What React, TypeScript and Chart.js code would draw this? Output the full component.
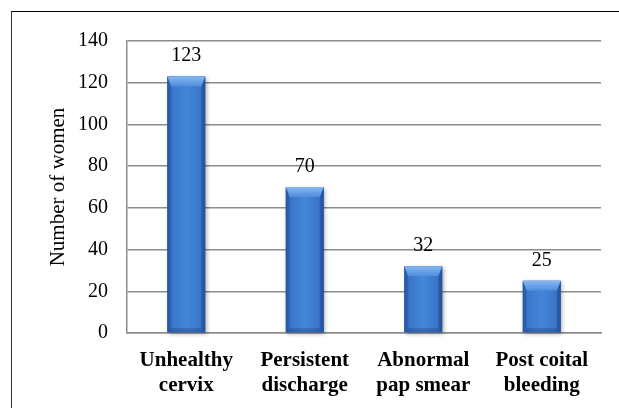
import React, { useEffect, useRef } from "react";
import { Chart, registerables } from "chart.js";

Chart.register(...registerables);

const categories: string[][] = [
  ["Unhealthy", "cervix"],
  ["Persistent", "discharge"],
  ["Abnormal", "pap smear"],
  ["Post coital", "bleeding"],
];
const womenCounts: number[] = [123, 70, 32, 25];
const yAxisTitle = "Number of women";
const yMin = 0;
const yMax = 140;
const yStep = 20;

const FONT = "'Liberation Serif', 'Times New Roman', serif";

const barStylePlugin = {
  id: "barStyle",
  afterDatasetsDraw(chart: any) {
    const ctx: CanvasRenderingContext2D = chart.ctx;
    const meta = chart.getDatasetMeta(0);
    meta.data.forEach((el: any) => {
      const { x, y, base, width } = el.getProps(["x", "y", "base", "width"], true);
      const left = x - width / 2;
      const right = x + width / 2;
      const top = Math.min(y, base);
      const bottom = Math.max(y, base);
      const h = bottom - top;
      const b = Math.min(10, h / 2);
      ctx.save();
      ctx.shadowColor = "rgba(0,0,0,0.3)";
      ctx.shadowBlur = 4;
      ctx.shadowOffsetX = 1.5;
      ctx.shadowOffsetY = 1.5;
      const g = ctx.createLinearGradient(left, 0, right, 0);
      g.addColorStop(0, "#2c62b2");
      g.addColorStop(0.12, "#3a76ca");
      g.addColorStop(0.5, "#4386d9");
      g.addColorStop(0.88, "#3a76ca");
      g.addColorStop(1, "#2c60ae");
      ctx.fillStyle = g;
      ctx.fillRect(left, top, width, h);
      ctx.shadowColor = "transparent";
      const s = 4;
      ctx.fillStyle = "rgba(20,50,110,0.22)";
      ctx.beginPath();
      ctx.moveTo(left, top);
      ctx.lineTo(left + s, top + b);
      ctx.lineTo(left + s, bottom - s);
      ctx.lineTo(left, bottom);
      ctx.closePath();
      ctx.fill();
      ctx.fillStyle = "rgba(20,50,110,0.3)";
      ctx.beginPath();
      ctx.moveTo(right, top);
      ctx.lineTo(right - s, top + b);
      ctx.lineTo(right - s, bottom - s);
      ctx.lineTo(right, bottom);
      ctx.closePath();
      ctx.fill();
      ctx.fillStyle = "rgba(20,50,110,0.3)";
      ctx.beginPath();
      ctx.moveTo(left, bottom);
      ctx.lineTo(left + s, bottom - s);
      ctx.lineTo(right - s, bottom - s);
      ctx.lineTo(right, bottom);
      ctx.closePath();
      ctx.fill();
      const tg = ctx.createLinearGradient(0, top, 0, top + b);
      tg.addColorStop(0, "#86b8f0");
      tg.addColorStop(1, "#4f8cdc");
      ctx.fillStyle = tg;
      ctx.beginPath();
      ctx.moveTo(left, top);
      ctx.lineTo(right, top);
      ctx.lineTo(right - s, top + b);
      ctx.lineTo(left + s, top + b);
      ctx.closePath();
      ctx.fill();
      ctx.restore();
    });
  },
};

const valueLabelPlugin = {
  id: "valueLabels",
  afterDatasetsDraw(chart: any) {
    const ctx: CanvasRenderingContext2D = chart.ctx;
    const meta = chart.getDatasetMeta(0);
    const data = chart.data.datasets[0].data as number[];
    ctx.save();
    ctx.font = `20px ${FONT}`;
    ctx.fillStyle = "#000";
    ctx.textAlign = "center";
    ctx.textBaseline = "alphabetic";
    meta.data.forEach((el: any, i: number) => {
      const { x, y } = el.getProps(["x", "y"], true);
      ctx.fillText(String(data[i]), x, y - 15);
    });
    ctx.restore();
  },
};

export default function App() {
  const canvasRef = useRef<HTMLCanvasElement | null>(null);

  useEffect(() => {
    if (!canvasRef.current) return;
    const chart = new Chart(canvasRef.current, {
      type: "bar",
      data: {
        labels: categories,
        datasets: [
          {
            data: womenCounts,
            backgroundColor: "#3b78cc",
            borderWidth: 0,
            barPercentage: 0.32,
            categoryPercentage: 1,
          },
        ],
      },
      options: {
        animation: false,
        responsive: false,
        devicePixelRatio: window.devicePixelRatio || 1,
        layout: { padding: { top: 41, right: 18, left: 0, bottom: 0 } },
        plugins: {
          legend: { display: false },
          tooltip: { enabled: false },
        },
        scales: {
          x: {
            grid: { display: false, drawTicks: false },
            border: { display: true, color: "#8c8c8c", width: 1.5 },
            ticks: {
              color: "#000",
              padding: 15,
              maxRotation: 0,
              autoSkip: false,
              font: { family: FONT, size: 21, weight: "bold", lineHeight: 1.2 },
            },
            afterFit(scale: any) {
              scale.height = 75;
            },
          },
          y: {
            min: yMin,
            max: yMax,
            ticks: {
              stepSize: yStep,
              color: "#000",
              padding: 19,
              font: { family: FONT, size: 20 },
            },
            grid: { color: "#8c8c8c", lineWidth: 1.5, drawTicks: false },
            border: { display: true, color: "#8c8c8c", width: 1.5 },
            title: {
              display: true,
              text: yAxisTitle,
              color: "#000",
              padding: { top: 46, bottom: 0 },
              font: { family: FONT, size: 21, lineHeight: 1.2 },
            },
            afterFit(scale: any) {
              scale.width = 127;
            },
          },
        },
      },
      plugins: [barStylePlugin, valueLabelPlugin],
    });
    return () => chart.destroy();
  }, []);

  return (
    <div
      style={{
        position: "fixed",
        left: 0,
        top: 0,
        width: 619,
        height: 408,
        overflow: "hidden",
        background: "#fff",
      }}
    >
      <div
        style={{
          position: "absolute",
          left: 11,
          top: 11,
          width: 700,
          height: 500,
          borderTop: "1.5px solid #000",
          borderLeft: "1.5px solid #333",
        }}
      />
      <canvas
        ref={canvasRef}
        width={619}
        height={408}
        style={{ position: "absolute", left: 0, top: 0, width: 619, height: 408 }}
      />
    </div>
  );
}
